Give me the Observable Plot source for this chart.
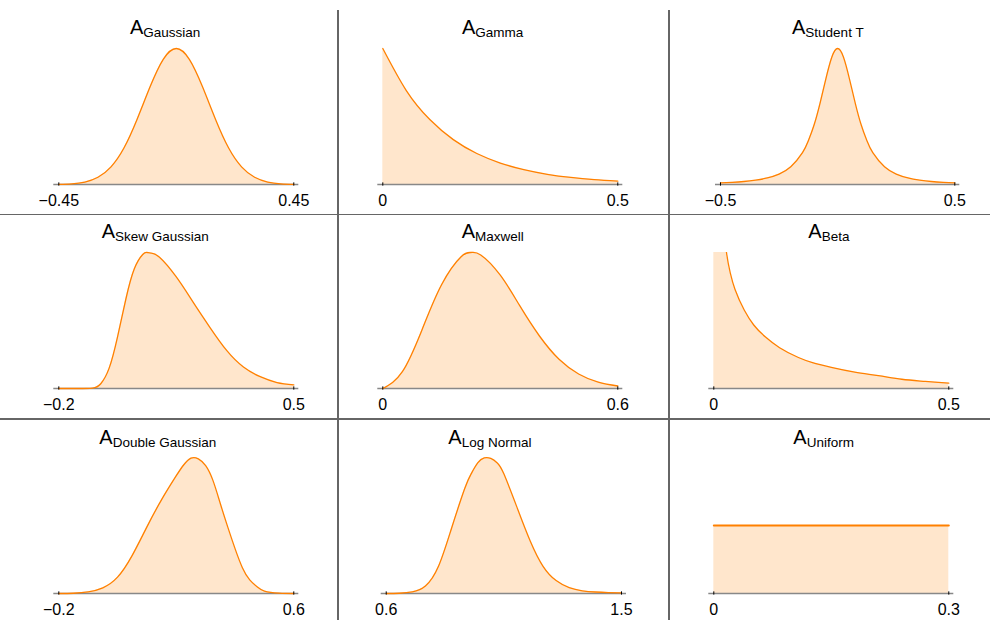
<!DOCTYPE html>
<html>
<head>
<meta charset="utf-8">
<script src="https://cdn.jsdelivr.net/npm/d3@7"></script>
<script src="https://cdn.jsdelivr.net/npm/@observablehq/plot@0.6"></script>
<style>
html, body { margin: 0; padding: 0; background: #fff; }
#chart { position: relative; width: 990px; height: 620px; overflow: hidden; font-family: "Liberation Sans", Arial, sans-serif; }
.title { position: absolute; font-size: 20px; line-height: 20px; white-space: nowrap; color: #000; }
.title sub { font-size: 13.5px; vertical-align: baseline; position: relative; top: 2.7px; }
.sep { position: absolute; background: #666; }
</style>
</head>
<body>
<div id="chart"></div>
<script>
// ---- Data (relative density heights) ----
const gaussianX = [-0.45,-0.4,-0.35,-0.3,-0.25,-0.2,-0.15,-0.1,-0.05,0,0.05,0.1,0.15,0.2,0.25,0.3,0.35,0.4,0.45];
const gaussianY = [0.001,0.005,0.018,0.053,0.13,0.27,0.48,0.72,0.92,1,0.92,0.72,0.48,0.27,0.13,0.053,0.018,0.005,0.001];

const gammaX = [0,0.05,0.1,0.15,0.2,0.25,0.3,0.35,0.4,0.45,0.5];
const gammaY = [1,0.691,0.478,0.33,0.228,0.158,0.109,0.075,0.052,0.036,0.025];

const studentX = [-0.5,-0.45,-0.4,-0.35,-0.3,-0.25,-0.2,-0.15,-0.125,-0.1,-0.075,-0.05,-0.025,0,0.025,0.05,0.075,0.1,0.125,0.15,0.2,0.25,0.3,0.35,0.4,0.45,0.5];
const studentY = [0.012,0.016,0.022,0.032,0.048,0.077,0.13,0.234,0.321,0.441,0.599,0.779,0.936,1,0.936,0.779,0.599,0.441,0.321,0.234,0.13,0.077,0.048,0.032,0.022,0.016,0.012];

const skewX = [-0.2,-0.15,-0.1,-0.075,-0.05,-0.025,0,0.025,0.05,0.0625,0.075,0.1,0.15,0.2,0.25,0.3,0.35,0.4,0.45,0.5];
const skewY = [0,0,0.003,0.035,0.15,0.38,0.66,0.88,0.985,1,0.995,0.965,0.82,0.635,0.45,0.28,0.158,0.087,0.044,0.027];

const maxwellX = [0,0.05,0.1,0.15,0.2,0.225,0.25,0.3,0.35,0.4,0.45,0.5,0.55,0.6];
const maxwellY = [0,0.124,0.431,0.763,0.969,1,0.982,0.833,0.607,0.386,0.215,0.107,0.047,0.0185];

const betaX = [0,0.005,0.01,0.02,0.027,0.035,0.045,0.065,0.085,0.11,0.14,0.18,0.21,0.25,0.3,0.35,0.4,0.45,0.5];
const betaY = [8,3.2,2.1,1.3,1,0.85,0.73,0.575,0.467,0.378,0.3,0.228,0.19,0.155,0.12,0.095,0.068,0.052,0.039];

const doubleX = [-0.2,-0.15,-0.1,-0.05,0,0.05,0.1,0.15,0.2,0.225,0.25,0.275,0.3,0.325,0.35,0.375,0.4,0.425,0.45,0.475,0.5,0.55,0.6];
const doubleY = [0,0.002,0.012,0.042,0.12,0.28,0.49,0.69,0.866,0.945,0.995,0.99,0.94,0.83,0.66,0.49,0.33,0.19,0.1,0.049,0.018,0.003,0];

const logNormalX = [0.6,0.65,0.7,0.75,0.8,0.85,0.9,0.925,0.95,0.975,1,1.025,1.05,1.1,1.15,1.2,1.25,1.3,1.35,1.4,1.45,1.5];
const logNormalY = [0,0.002,0.012,0.055,0.2,0.48,0.77,0.88,0.96,0.997,0.993,0.96,0.88,0.635,0.39,0.2,0.095,0.043,0.02,0.011,0.007,0.005];

const uniformX = [0,0.3];
const uniformY = [0.5,0.5];

// tick values and labels
const ticksGaussian = [-0.45, 0.45], labelsGaussian = ["\u22120.45", "0.45"];
const ticksGamma = [0, 0.5],        labelsGamma = ["0", "0.5"];
const ticksStudent = [-0.5, 0.5],   labelsStudent = ["\u22120.5", "0.5"];
const ticksSkew = [-0.2, 0.5],      labelsSkew = ["\u22120.2", "0.5"];
const ticksMaxwell = [0, 0.6],      labelsMaxwell = ["0", "0.6"];
const ticksBeta = [0, 0.5],         labelsBeta = ["0", "0.5"];
const ticksDouble = [-0.2, 0.6],    labelsDouble = ["\u22120.2", "0.6"];
const ticksLogNormal = [0.6, 1.5],  labelsLogNormal = ["0.6", "1.5"];
const ticksUniform = [0, 0.3],      labelsUniform = ["0", "0.3"];

const titles = ["Gaussian","Gamma","Student T","Skew Gaussian","Maxwell","Beta","Double Gaussian","Log Normal","Uniform"];

// ---- Layout ----
const colLeft = [0, 338, 669], colWidth = [338, 331, 321];
const rowTop = [37.7, 242.3, 446.7];
const titleBase = [34, 238.3, 444];

const panels = [
  {x: gaussianX, y: gaussianY, ticks: ticksGaussian, labels: labelsGaussian, col: 0, row: 0, px: [58.3, 293.3], tl: 130},
  {x: gammaX, y: gammaY, ticks: ticksGamma, labels: labelsGamma, col: 1, row: 0, px: [382.3, 617.3], tl: 462},
  {x: studentX, y: studentY, ticks: ticksStudent, labels: labelsStudent, col: 2, row: 0, px: [720, 954.3], tl: 792},
  {x: skewX, y: skewY, ticks: ticksSkew, labels: labelsSkew, col: 0, row: 1, px: [58.3, 293.3], tl: 101.7},
  {x: maxwellX, y: maxwellY, ticks: ticksMaxwell, labels: labelsMaxwell, col: 1, row: 1, px: [382.3, 617.3], tl: 461.7},
  {x: betaX, y: betaY, ticks: ticksBeta, labels: labelsBeta, col: 2, row: 1, px: [713.3, 948.3], tl: 808.3, clip: true, curve: "catmull-rom"},
  {x: doubleX, y: doubleY, ticks: ticksDouble, labels: labelsDouble, col: 0, row: 2, px: [58.3, 293.3], tl: 99.3},
  {x: logNormalX, y: logNormalY, ticks: ticksLogNormal, labels: labelsLogNormal, col: 1, row: 2, px: [385.7, 621], tl: 448.3},
  {x: uniformX, y: uniformY, ticks: ticksUniform, labels: labelsUniform, col: 2, row: 2, px: [713.3, 948.3], tl: 793.3, lw: 2, curve: "linear"}
];

const chart = document.getElementById("chart");
const ORANGE = "#ff8000";

panels.forEach((p, k) => {
  const data = p.x.map((x, i) => ({x, y: p.y[i]}));
  const [lo, hi] = p.ticks;
  const pad = (hi - lo) * 0.0213;
  const left = colLeft[p.col], width = colWidth[p.col];
  const ml = p.px[0] - 5 - left;
  const mr = left + width - p.px[1] - 5;
  const curve = p.curve || "natural";
  const svg = Plot.plot({
    width, height: 176,
    marginTop: 10, marginBottom: 30, marginLeft: ml, marginRight: mr,
    x: {domain: [lo - pad, hi + pad], axis: null},
    y: {domain: [0, 1], axis: null},
    style: {background: "transparent", overflow: "visible", maxWidth: "none", fontSize: "16px", fontFamily: "'Liberation Sans', Arial, sans-serif", color: "#000"},
    marks: [
      Plot.areaY(data, {x: "x", y: "y", fill: ORANGE, fillOpacity: 0.2, curve, clip: !!p.clip}),
      Plot.ruleY([0], {stroke: "#888", strokeWidth: 1.4}),
      Plot.lineY(data, {x: "x", y: "y", stroke: ORANGE, strokeWidth: p.lw || 1.3, curve, clip: !!p.clip}),
      Plot.ruleX(p.ticks, {y1: -0.012, y2: 0.012, stroke: "#000", strokeWidth: 1}),
      Plot.axisX({ticks: p.ticks, tickFormat: d => p.labels[p.ticks.indexOf(d)], tickSize: 0, tickPadding: 10, fontSize: 16, fill: "#000", label: null})
    ]
  });
  svg.style.position = "absolute";
  svg.style.left = left + "px";
  svg.style.top = rowTop[p.row] + "px";
  chart.appendChild(svg);

  const t = document.createElement("div");
  t.className = "title";
  t.style.left = p.tl + "px";
  t.style.top = (titleBase[p.row] - 17) + "px";
  t.innerHTML = "A<sub>" + titles[k] + "</sub>";
  chart.appendChild(t);
});

// grid separators
[[337, 10, 1.5, 610], [668, 10, 1.5, 610], [0, 213.5, 990, 1.5], [0, 418.3, 990, 1.5]].forEach(([l, t, w, h]) => {
  const d = document.createElement("div");
  d.className = "sep";
  Object.assign(d.style, {left: l + "px", top: t + "px", width: w + "px", height: h + "px"});
  chart.appendChild(d);
});
</script>
</body>
</html>
